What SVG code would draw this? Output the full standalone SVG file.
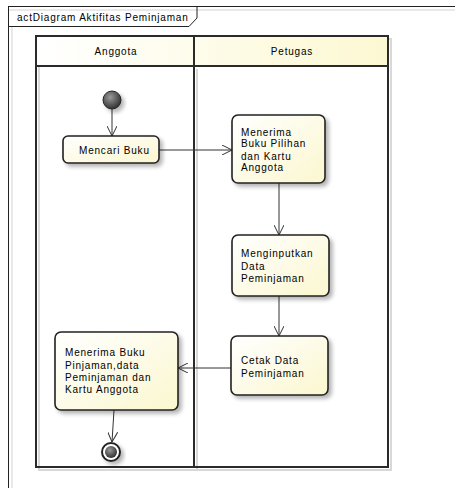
<svg xmlns="http://www.w3.org/2000/svg" width="455" height="488" viewBox="0 0 455 488">
  <defs>
    <linearGradient id="nodeFill" x1="0" y1="0" x2="1" y2="1">
      <stop offset="0" stop-color="#ffffff"/>
      <stop offset="1" stop-color="#fbf7cf"/>
    </linearGradient>
    <linearGradient id="headFill" x1="0" y1="0" x2="1" y2="0">
      <stop offset="0" stop-color="#ffffff"/>
      <stop offset="1" stop-color="#fcf8d2"/>
    </linearGradient>
    <radialGradient id="ball" cx="0.4" cy="0.35" r="0.7">
      <stop offset="0" stop-color="#9a9a9a"/>
      <stop offset="1" stop-color="#2a2a2a"/>
    </radialGradient>
    <filter id="shadow" x="-20%" y="-20%" width="150%" height="150%">
      <feGaussianBlur in="SourceAlpha" stdDeviation="2"/>
      <feOffset dx="3" dy="3" result="b"/>
      <feComponentTransfer><feFuncA type="linear" slope="0.3"/></feComponentTransfer>
      <feMerge><feMergeNode/><feMergeNode in="SourceGraphic"/></feMerge>
    </filter>
    <marker id="open" viewBox="0 0 10 10" refX="10" refY="5" markerWidth="10" markerHeight="10" markerUnits="userSpaceOnUse" orient="auto">
      <path d="M0,0 L10,5 L0,10" fill="none" stroke="#333" stroke-width="1"/>
    </marker>
  </defs>
  <style>
    text { font-family: "Liberation Sans", Arial, sans-serif; font-size: 10px; letter-spacing: 0.8px; fill: #000; }
    .act { fill: url(#nodeFill); stroke: #222; stroke-width: 1.6; filter: url(#shadow); }
    .lane { fill: none; stroke: #2a2a2a; stroke-width: 2; }
    .laneShadow { fill: none; stroke: #d8d8d8; stroke-width: 2; }
    .flow { fill: none; stroke: #333; stroke-width: 1; marker-end: url(#open); }
  </style>

  <rect width="455" height="488" fill="#ffffff"/>

  <!-- diagram frame with name tab -->
  <g id="frame">
    <line x1="9" y1="10" x2="455" y2="10" stroke="#e2e2e2" stroke-width="1.5"/>
    <line x1="12" y1="27" x2="12" y2="488" stroke="#e2e2e2" stroke-width="1.5"/>
    <line x1="8" y1="6.5" x2="455" y2="6.5" stroke="#222" stroke-width="1"/>
    <line x1="8.5" y1="6" x2="8.5" y2="488" stroke="#222" stroke-width="1"/>
    <path d="M8.5,26.5 H189 L197,18 V6.5" fill="none" stroke="#222" stroke-width="1"/>
    <text x="17" y="21">actDiagram Aktifitas Peminjaman</text>
  </g>

  <!-- swimlanes -->
  <g id="lanes">
    <rect x="39" y="39" width="352" height="431" class="laneShadow"/>
    <line x1="197" y1="69" x2="197" y2="470" class="laneShadow"/>
    <rect x="36" y="36" width="352" height="30" fill="url(#headFill)"/>
    <rect x="36" y="36" width="352" height="431" class="lane"/>
    <line x1="36" y1="66" x2="388" y2="66" class="lane"/>
    <line x1="194" y1="36" x2="194" y2="467" class="lane"/>
    <text x="116" y="55" text-anchor="middle">Anggota</text>
    <text x="292" y="55" text-anchor="middle">Petugas</text>
  </g>

  <!-- connectors -->
  <g id="connectors">
    <line x1="112" y1="109" x2="112" y2="136" class="flow"/>
    <line x1="159" y1="150" x2="232" y2="150" class="flow"/>
    <line x1="279" y1="183" x2="279" y2="235" class="flow"/>
    <line x1="279" y1="296" x2="279" y2="336" class="flow"/>
    <line x1="231" y1="368" x2="178" y2="368" class="flow"/>
    <line x1="114" y1="410" x2="112" y2="442" class="flow"/>
  </g>

  <g id="start">
    <circle cx="112" cy="100" r="9" fill="url(#ball)" stroke="#222" stroke-width="1" filter="url(#shadow)"/>
  </g>

  <g id="mencari-buku">
    <rect x="63" y="136" width="96" height="27" rx="5" class="act"/>
    <text x="79" y="154">Mencari Buku</text>
  </g>

  <g id="menerima-buku-pilihan">
    <rect x="232" y="115" width="93" height="68" rx="6" class="act"/>
    <text x="241" y="136">Menerima</text>
    <text x="241" y="147">Buku Pilihan</text>
    <text x="241" y="160">dan Kartu</text>
    <text x="241" y="171">Anggota</text>
  </g>

  <g id="menginputkan-data">
    <rect x="232" y="235" width="97" height="61" rx="6" class="act"/>
    <text x="241" y="257">Menginputkan</text>
    <text x="241" y="270">Data</text>
    <text x="241" y="282">Peminjaman</text>
  </g>

  <g id="cetak-data">
    <rect x="231" y="336" width="97" height="59" rx="6" class="act"/>
    <text x="241" y="364">Cetak Data</text>
    <text x="241" y="377">Peminjaman</text>
  </g>

  <g id="menerima-buku-pinjaman">
    <rect x="55" y="332" width="123" height="78" rx="6" class="act"/>
    <text x="65" y="356">Menerima Buku</text>
    <text x="65" y="369">Pinjaman,data</text>
    <text x="65" y="381">Peminjaman dan</text>
    <text x="65" y="393">Kartu Anggota</text>
  </g>

  <g id="end">
    <circle cx="111" cy="452" r="9" fill="#ffffff" stroke="#222" stroke-width="2" filter="url(#shadow)"/>
    <circle cx="111" cy="452" r="6" fill="url(#ball)"/>
  </g>
</svg>
